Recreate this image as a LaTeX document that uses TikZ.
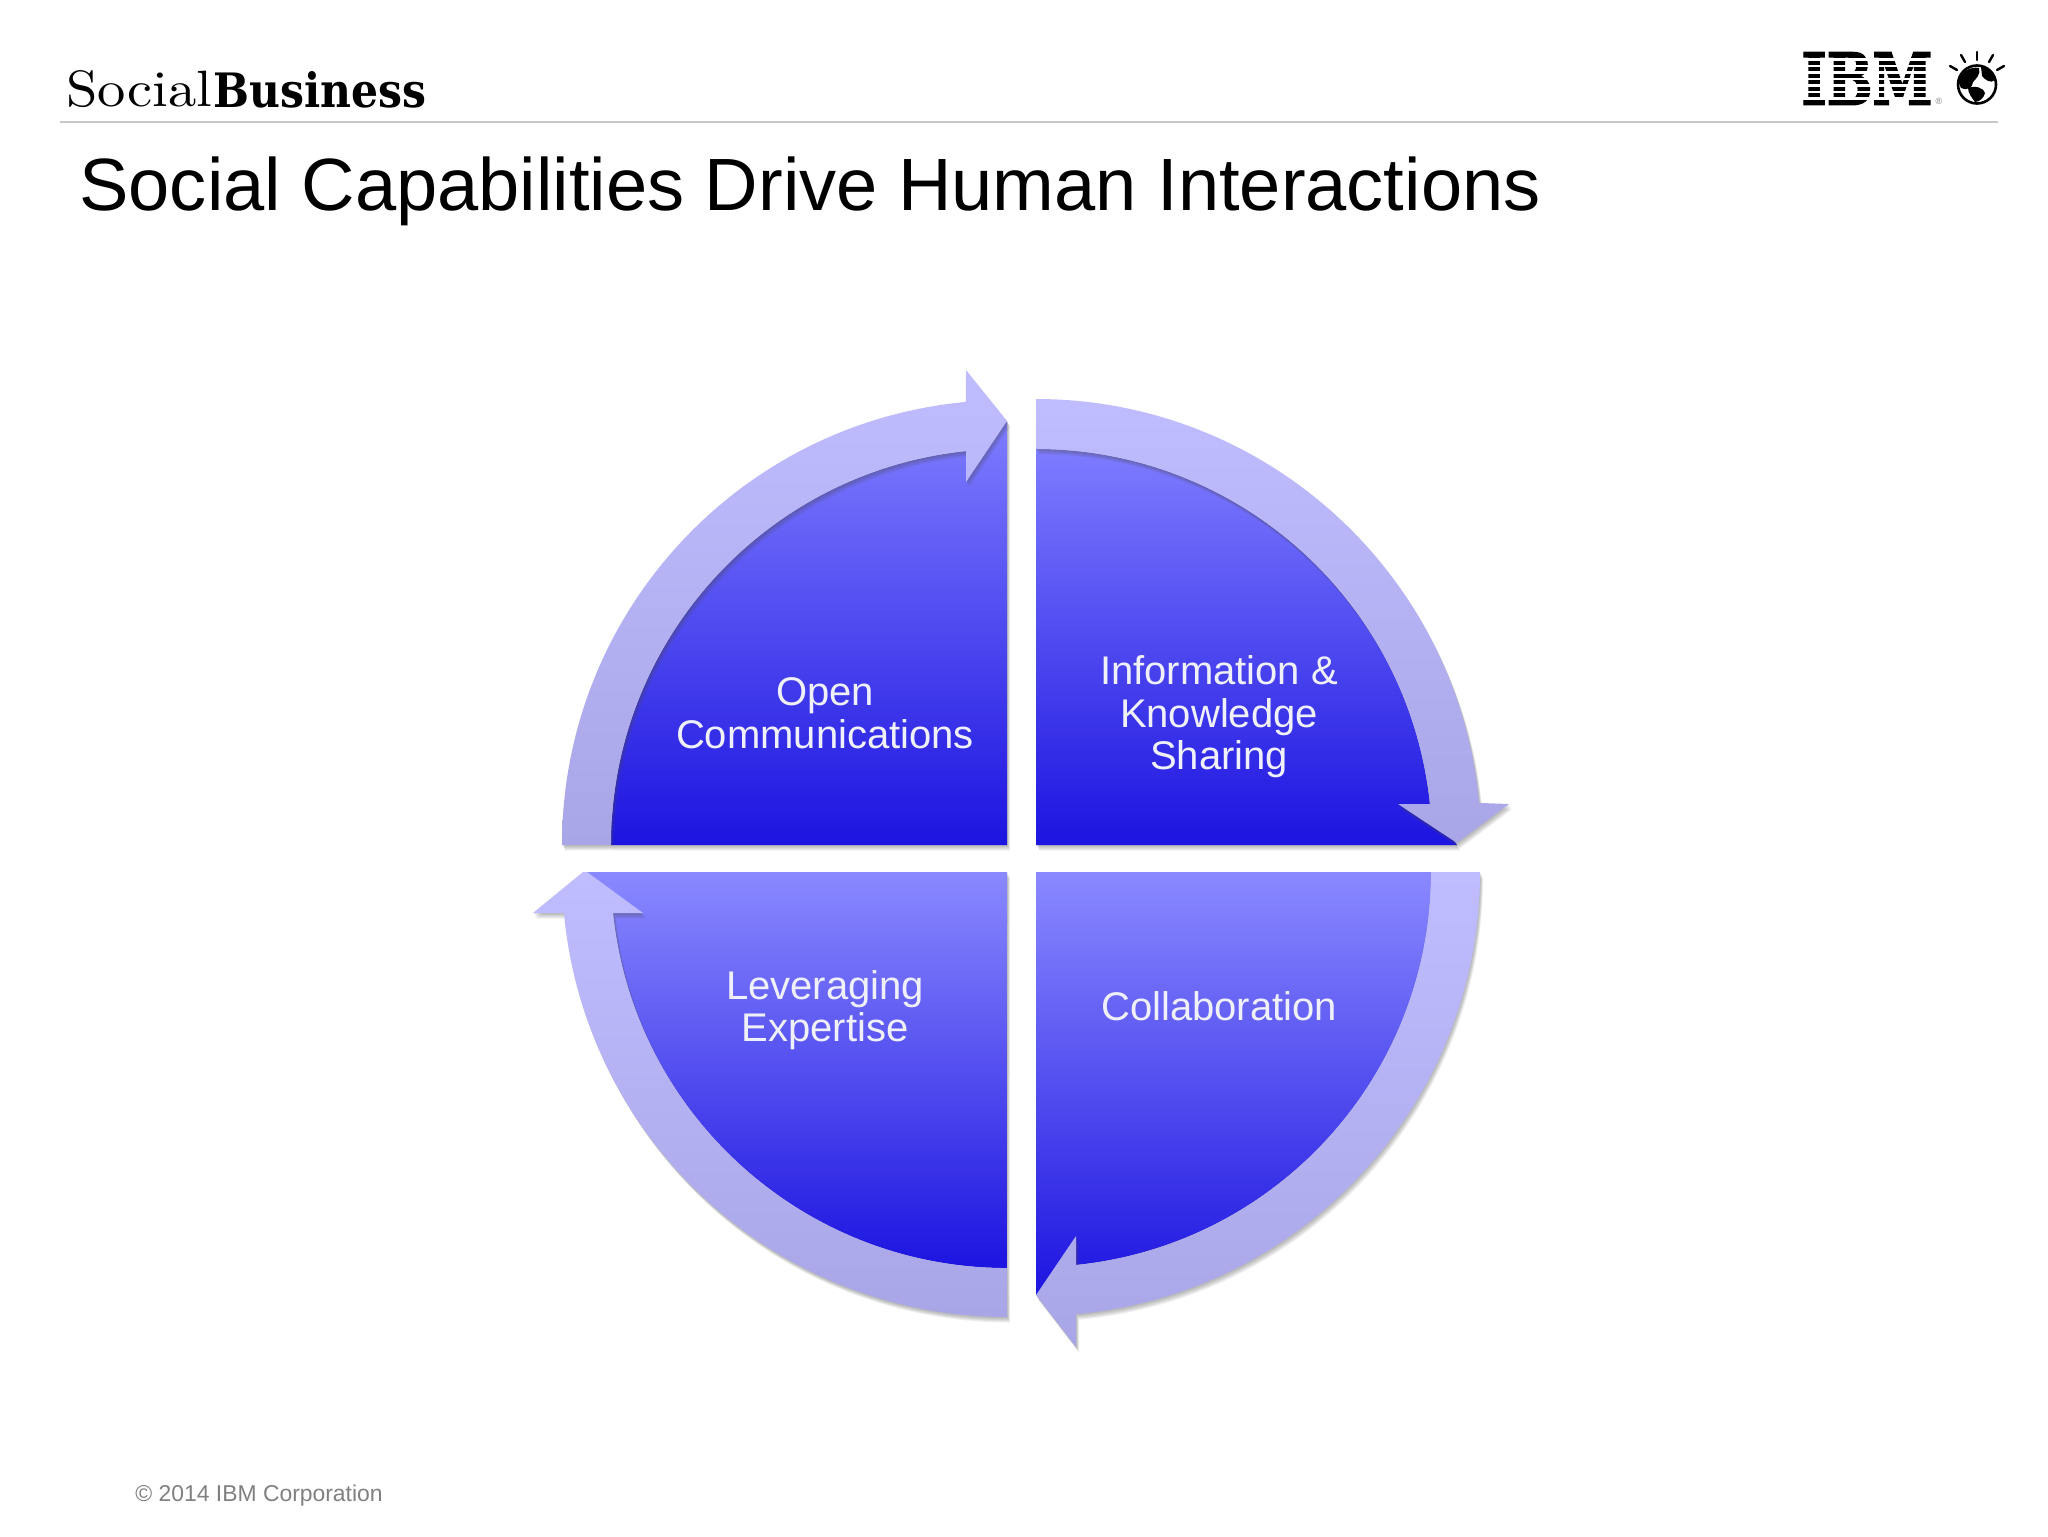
\documentclass[tikz,border=0pt]{standalone}
\usepackage{fontspec}
\setmainfont{Liberation Sans}
\newfontfamily\slabbold{DejaVu Serif}
\newfontfamily\ibmfont[BoldFeatures={FakeBold=2.5}]{DejaVu Serif}
\newcommand{\slablight}{\fontfamily{lmr}\selectfont}
\definecolor{arrowlight}{HTML}{BFBDFF}
\definecolor{arrowdark}{HTML}{A8A6E6}
\definecolor{bluelightA}{HTML}{7E7CFF}
\definecolor{bluelightB}{HTML}{8A89FF}
\definecolor{bluedark}{HTML}{1C14E0}
\definecolor{labelwhite}{HTML}{F0F0FA}
\tikzset{
  wedgeA/.style={top color=bluelightA,bottom color=bluedark,shading angle=0},
  wedgeB/.style={top color=bluelightB,bottom color=bluedark,shading angle=0},
  ring/.style={top color=arrowlight,bottom color=arrowdark},
  softshadow/.style={fill=black!70,fill opacity=0.09,draw=none},
  wedgelabel/.style={text=labelwhite,align=center,font=\fontsize{20}{21.25}\selectfont},
  ray/.style={line width=1.2pt,line cap=round,black}
}
\newcommand{\shadowed}[2]{%
  \foreach \d in {1,2,...,5}{\fill[softshadow,shift={(0.6*\d,1.1*\d)}] #2;}%
  \shade[#1] #2;}
\begin{document}
\begin{tikzpicture}[x=0.5pt,y=-0.5pt]
\useasboundingbox (0,0) rectangle (2048,1536);
\fill[white] (0,0) rectangle (2048,1536);
% header
\node[anchor=base east,inner sep=0pt] (logoa) at (213,107) {\resizebox{73pt}{18pt}{\slablight Social}};
\node[anchor=base west,inner sep=0pt] (logob) at (213,107) {\resizebox{106.5pt}{18pt}{\slabbold\bfseries Business}};
\draw[black!22,line width=0.7pt] (60,122) -- (1998,122);
\node[anchor=base west,inner sep=0pt] (title) at (79,210) {\fontsize{37.03}{40}\selectfont Social Capabilities Drive Human Interactions};
% IBM logo
\node[anchor=south west,inner sep=0pt] (ibm) at (1801,105) {\resizebox{65.5pt}{26pt}{\ibmfont\bfseries IBM}};
\foreach \k in {1,...,7}{\fill[white] (1798,{53+6.5*\k-1.2}) rectangle (1935,{53+6.5*\k+1.2});}
\node[inner sep=0pt,text=black!50] (reg) at (1939,101) {\fontsize{4.5}{5}\selectfont ®};
% globe
\fill[white,draw=black,line width=1.3pt] (1977,84.5) circle (19);
\fill[black] (1961,74) .. controls (1968,68) and (1975,67) .. (1979,68) .. controls (1981,74) and (1976,79) .. (1973,82) .. controls (1973,88) and (1966,91) .. (1961,88) .. controls (1958,83) and (1958,78) .. (1961,74) -- cycle;
\fill[black] (1968,88) .. controls (1975,85) and (1984,88) .. (1985,93) .. controls (1984,98) and (1979,102) .. (1975,102) .. controls (1972,98) and (1968,93) .. (1968,88) -- cycle;
\fill[black] (1981,67) .. controls (1988,68) and (1994,73) .. (1995,80) .. controls (1991,84) and (1985,80) .. (1982,76) -- cycle;
\draw[ray] (1977,52) -- (1977,60);
\draw[ray] (1961,55) -- (1965,62);
\draw[ray] (1993,55) -- (1989,62);
\draw[ray] (1950,66) -- (1957,70);
\draw[ray] (2004,66) -- (1997,70);
% wedges
\shadowed{wedgeA}{(611,845) arc[start angle=180,end angle=264.06,radius=396] -- (1007,421) -- (1007,845) -- cycle}
\shadowed{wedgeA}{(1036,449) arc[start angle=270,end angle=354.06,radius=396] -- (1457,845) -- (1036,845) -- cycle}
\shadowed{wedgeB}{(1431,872) arc[start angle=0,end angle=84.19,radius=395] -- (1036,1295) -- (1036,872) -- cycle}
\shadowed{wedgeB}{(1007,872) -- (584,872) -- (613,913) arc[start angle=174.06,end angle=90,radius=396] -- cycle}
% arrows
\shadowed{ring}{(562,845) arc[start angle=180,end angle=264.7,radius=445] -- (966,370) -- (1007,421) -- (966,482) -- (966,451) arc[start angle=264.06,end angle=180,radius=396] -- cycle}
\shadowed{ring}{(1036,399) arc[start angle=270,end angle=354.7,radius=445] -- (1509,804) -- (1457,843) -- (1398,804) -- (1430,804) arc[start angle=354.06,end angle=270,radius=396] -- cycle}
\shadowed{ring}{(1480,872) arc[start angle=0,end angle=84.83,radius=444] -- (1076,1347) -- (1036,1295) -- (1076,1236) -- (1076,1265) arc[start angle=84.19,end angle=0,radius=395] -- cycle}
\shadowed{ring}{(1007,1317) arc[start angle=90,end angle=174.71,radius=445] -- (533,913) -- (583,872) -- (587,872) -- (643,913) -- (613,913) arc[start angle=174.06,end angle=90,radius=396] -- cycle}
% labels
\node[wedgelabel] (open) at (825,713) {Open\\Communications};
\node[wedgelabel] (info) at (1219,717) {Information \&\\Knowledge\\Sharing};
\node[wedgelabel] (lev) at (825,1010) {Leveraging\\Expertise};
\node[wedgelabel] (coll) at (1219,1006) {Collaboration};
\node[anchor=base west,inner sep=0pt,text=black!50] (copy) at (135,1501) {\fontsize{11.45}{14}\selectfont © 2014 IBM Corporation};
\end{tikzpicture}
\end{document}
